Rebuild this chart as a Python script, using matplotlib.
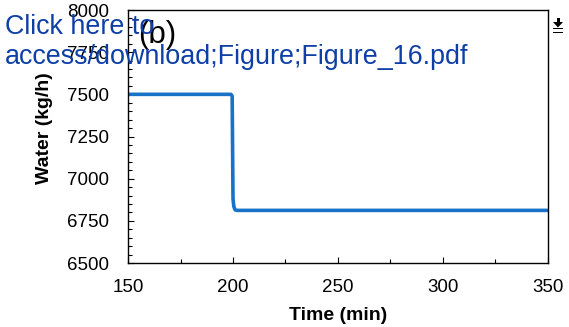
import matplotlib
matplotlib.use("Agg")
import matplotlib.pyplot as plt
from matplotlib.ticker import MultipleLocator
from matplotlib.patches import Polygon, Rectangle

# Water flow response to the step change around t = 200 min
time_min = [150.0, 199.0, 199.6, 200.0, 200.4, 201.0, 202.0, 350.0]
water_kgh = [7500, 7500, 7490, 6880, 6835, 6815, 6812, 6812]

x_ticks = [150, 200, 250, 300, 350]
y_ticks = [6500, 6750, 7000, 7250, 7500, 7750, 8000]

plt.rcParams['font.family'] = ['Liberation Sans', 'DejaVu Sans']

W, H = 569, 327
fig = plt.figure(figsize=(W / 100, H / 100), dpi=100)
ax = fig.add_axes([0.225, 0.1957, 0.738, 0.7737])

ax.plot(time_min, water_kgh, color='#1872c8', lw=2.6, solid_joinstyle='round')

ax.set_xlim(150, 350)
ax.set_ylim(6500, 8000)
ax.set_xticks(x_ticks)
ax.set_yticks(y_ticks)
ax.xaxis.set_minor_locator(MultipleLocator(25))
ax.yaxis.set_minor_locator(MultipleLocator(50))
ax.tick_params(axis='both', which='both', direction='in', top=False, right=False,
               labelsize=13.5, width=0.8)
ax.tick_params(which='major', length=4)
ax.tick_params(which='minor', length=3)
ax.tick_params(axis='x', pad=11.5)
ax.tick_params(axis='y', pad=13.5)
for s in ax.spines.values():
    s.set_linewidth(1.0)

ax.set_xlabel('Time (min)', fontsize=14, fontweight='bold', labelpad=8)
ax.set_ylabel('Water (kg/h)', fontsize=14, fontweight='bold')
ax.yaxis.set_label_coords(-0.179, 0.532)

ax.text(10 / 420, 1 - 10 / 253, '(b)', transform=ax.transAxes, fontsize=22.5,
        ha='left', va='top', color='black')


def px(x, y):
    return (x / W, 1 - y / H)


# Link banner overlay
banner = '#0d3fa6'
fig.text(*px(5, 33.5), 'Click here to', color=banner, fontsize=19.4,
         ha='left', va='baseline')
fig.text(*px(5, 63.5), 'access/download;Figure;Figure_16.pdf', color=banner,
         fontsize=19.4, ha='left', va='baseline')

# Download icon at the top right (arrow onto a bar, underlined)
icon = [
    Rectangle(px(556.5, 22), 3 / W, 4 / H),
    Polygon([px(553, 22), px(563, 22), px(558, 27.5)], closed=True),
    Rectangle(px(553, 29), 10 / W, 1.5 / H),
    Rectangle(px(553, 33), 10 / W, 1.5 / H),
]
for p in icon:
    p.set_transform(fig.transFigure)
    p.set_facecolor('black')
    p.set_edgecolor('none')
    fig.patches.append(p)

fig.savefig('out.png', dpi=100)
